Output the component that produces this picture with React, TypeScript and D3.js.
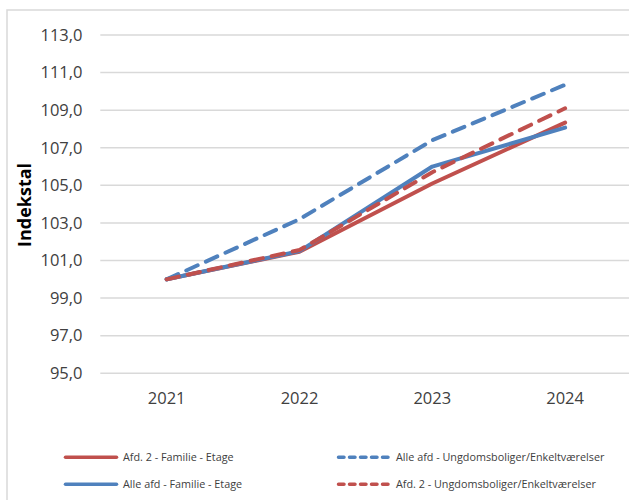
import * as d3 from 'd3';
import { useEffect, useRef } from 'react';

const years = ['2021', '2022', '2023', '2024'];
const yTicks = [95, 97, 99, 101, 103, 105, 107, 109, 111, 113];

const afd2Familie = [100.0, 101.47, 105.1, 108.34];
const alleUngdom = [100.0, 103.2, 107.4, 110.35];
const alleFamilie = [100.0, 101.5, 106.0, 108.07];
const afd2Ungdom = [100.0, 101.56, 105.7, 109.1];

const seriesNames = [
    'Afd. 2 - Familie - Etage',
    'Alle afd - Ungdomsboliger/Enkeltværelser',
    'Alle afd - Familie - Etage',
    'Afd. 2 - Ungdomsboliger/Enkeltværelser',
];

const RED = '#C0504D';
const BLUE = '#4F81BD';
const FONT = '"Open Sans", "Noto Sans", sans-serif';

const width = 629;
const height = 500;
const plot = { left: 100.3, right: 631.5, top: 35, bottom: 373.3 };

export default function App() {
    const ref = useRef<SVGSVGElement>(null);

    useEffect(() => {
        const svg = d3.select(ref.current);
        svg.selectAll('*').remove();

        const series = [
            { name: seriesNames[0], values: afd2Familie, color: RED, dashed: false },
            { name: seriesNames[1], values: alleUngdom, color: BLUE, dashed: true },
            { name: seriesNames[2], values: alleFamilie, color: BLUE, dashed: false },
            { name: seriesNames[3], values: afd2Ungdom, color: RED, dashed: true },
        ];

        const x = d3.scaleBand().domain(years).range([plot.left, plot.right]);
        const y = d3.scaleLinear().domain([95, 113]).range([plot.bottom, plot.top]);

        // chart border
        svg.append('rect')
            .attr('x', 7).attr('y', 10)
            .attr('width', 640).attr('height', 520)
            .attr('fill', 'white')
            .attr('stroke', '#d9d9d9').attr('stroke-width', 1.5);

        // gridlines + y labels
        const yAxis = svg.append('g');
        yTicks.forEach((t) => {
            yAxis.append('line')
                .attr('x1', plot.left).attr('x2', plot.right)
                .attr('y1', y(t)).attr('y2', y(t))
                .attr('stroke', '#d9d9d9').attr('stroke-width', 1.5);
            yAxis.append('text')
                .attr('x', 82.5).attr('y', y(t))
                .attr('dy', '0.35em')
                .attr('text-anchor', 'end')
                .attr('font-family', FONT).attr('font-size', 16.5)
                .attr('fill', '#404040')
                .text(d3.format('.1f')(t).replace('.', ','));
        });

        // x labels
        years.forEach((yr) => {
            svg.append('text')
                .attr('x', x(yr)! + x.bandwidth() / 2).attr('y', 398.5)
                .attr('dy', '0.35em')
                .attr('text-anchor', 'middle')
                .attr('font-family', FONT).attr('font-size', 16.5)
                .attr('fill', '#404040')
                .text(yr);
        });

        // y title
        svg.append('text')
            .attr('transform', 'translate(25,205) rotate(-90)')
            .attr('dy', '0.35em')
            .attr('text-anchor', 'middle')
            .attr('font-family', FONT).attr('font-size', 18).attr('font-weight', 'bold')
            .attr('fill', '#000')
            .text('Indekstal');

        const line = d3.line<number>()
            .x((_, i) => x(years[i])! + x.bandwidth() / 2)
            .y((d) => y(d));

        series.forEach((s) => {
            svg.append('path')
                .attr('d', line(s.values))
                .attr('fill', 'none')
                .attr('stroke', s.color)
                .attr('stroke-width', 4)
                .attr('stroke-linejoin', 'round')
                .attr('stroke-linecap', 'round')
                .attr('stroke-dasharray', s.dashed ? '12.5 9' : null);
        });

        // legend
        const legendPos = [
            { x: 64, y: 457.3 },
            { x: 337, y: 457.3 },
            { x: 64, y: 484.3 },
            { x: 337, y: 484.3 },
        ];
        series.forEach((s, i) => {
            const p = legendPos[i];
            svg.append('line')
                .attr('x1', p.x + 1.5).attr('x2', p.x + 52.5)
                .attr('y1', p.y).attr('y2', p.y)
                .attr('stroke', s.color)
                .attr('stroke-width', 3.5)
                .attr('stroke-linecap', 'round')
                .attr('stroke-dasharray', s.dashed ? '5.5 5.5' : null);
            svg.append('text')
                .attr('x', p.x + 59).attr('y', p.y)
                .attr('dy', '0.35em')
                .attr('font-family', FONT).attr('font-size', 10.8)
                .attr('fill', '#404040')
                .text(s.name);
        });
    }, []);

    return (
        <svg ref={ref} width={width} height={height}
            style={{ position: 'absolute', left: 0, top: 0, background: 'white' }} />
    );
}
